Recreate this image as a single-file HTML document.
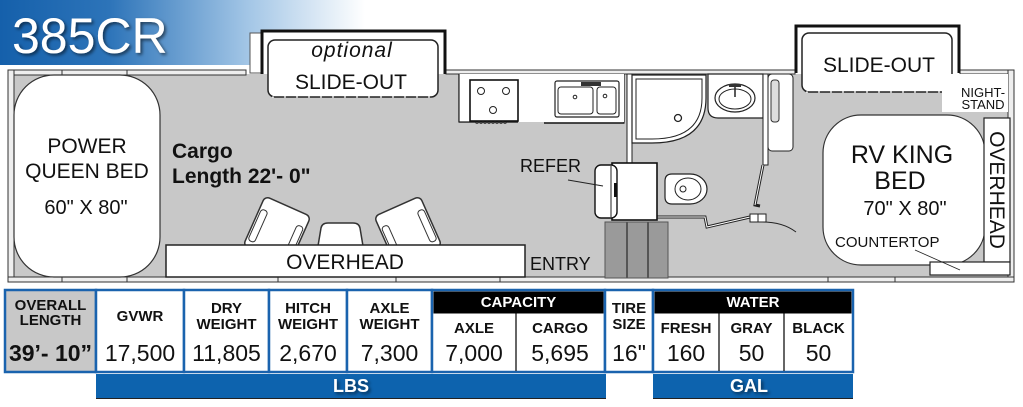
<!DOCTYPE html>
<html><head><meta charset="utf-8">
<style>
html,body{margin:0;padding:0;background:#fff;}
svg{display:block;}
text{font-family:"Liberation Sans",sans-serif;fill:#111;}
</style></head><body>
<svg width="1023" height="407" viewBox="0 0 1023 407" xmlns="http://www.w3.org/2000/svg">
<defs>
<linearGradient id="tg" x1="0" x2="1" y1="0" y2="0">
<stop offset="0" stop-color="#1560ab"/>
<stop offset="0.3" stop-color="#2d74b9"/>
<stop offset="0.68" stop-color="#a3c6e6"/>
<stop offset="1" stop-color="#ffffff"/>
</linearGradient>
<filter id="sh" x="-10%" y="-20%" width="130%" height="150%">
<feDropShadow dx="2" dy="2" stdDeviation="1.5" flood-color="#000" flood-opacity="0.55"/>
</filter>
</defs>

<!-- Title -->
<rect x="0" y="0" width="365" height="65" fill="url(#tg)"/>
<text x="12" y="53" font-size="50" style="fill:#fff" filter="url(#sh)">385CR</text>

<!-- Floor -->
<rect x="14" y="74" width="994" height="203" fill="#c8c8c8"/>

<!-- walls -->
<rect x="8" y="70" width="238" height="5" fill="#eee" stroke="#333" stroke-width="1"/>
<line x1="62" y1="70" x2="62" y2="75" stroke="#333"/>
<line x1="127" y1="70" x2="127" y2="75" stroke="#333"/>
<rect x="446" y="70" width="349" height="4" fill="#eee" stroke="#333" stroke-width="1"/>
<rect x="960" y="70" width="54" height="4" fill="#eee" stroke="#333" stroke-width="1"/>
<rect x="8" y="70" width="6" height="212" fill="#eee" stroke="#333" stroke-width="1"/>
<rect x="1008" y="70" width="6" height="212" fill="#eee" stroke="#333" stroke-width="1"/>
<rect x="8" y="277" width="1006" height="5" fill="#eee" stroke="#333" stroke-width="1"/>
<line x1="62" y1="277" x2="62" y2="282" stroke="#333"/>
<line x1="127" y1="277" x2="127" y2="282" stroke="#333"/>
<line x1="278" y1="277" x2="278" y2="282" stroke="#333"/>
<line x1="396" y1="277" x2="396" y2="282" stroke="#333"/>
<line x1="500" y1="277" x2="500" y2="282" stroke="#333"/>
<line x1="828" y1="277" x2="828" y2="282" stroke="#333"/>
<line x1="895" y1="277" x2="895" y2="282" stroke="#333"/>

<!-- Left slide-out -->
<rect x="250" y="33" width="12" height="40" fill="#fff" stroke="#555" stroke-width="1"/>
<path d="M262 74 V31 H445 V74" fill="#fff" stroke="#111" stroke-width="3"/>
<rect x="268" y="40" width="170" height="57" rx="7" fill="#fff" stroke="#222" stroke-width="1.5"/>
<line x1="272" y1="97" x2="434" y2="97" stroke="#fff" stroke-width="1" stroke-dasharray="2 10"/>
<text x="352" y="57" font-size="21" font-style="italic" text-anchor="middle" letter-spacing="1">optional</text>
<text x="351" y="89" font-size="21" text-anchor="middle">SLIDE-OUT</text>

<!-- Kitchen -->
<path d="M459 74 V122 H518 M544 123 H624 V74" fill="#fff" stroke="#222" stroke-width="1.2"/>
<rect x="459" y="74" width="165" height="48" fill="#fff"/>
<line x1="459" y1="74" x2="459" y2="122" stroke="#222" stroke-width="1.2"/>
<line x1="459" y1="122" x2="518" y2="122" stroke="#222" stroke-width="1.2"/>
<line x1="544" y1="123" x2="624" y2="123" stroke="#222" stroke-width="1.5"/>
<rect x="470" y="80" width="48" height="41" fill="#fff" stroke="#111" stroke-width="1.6"/>
<circle cx="481" cy="91" r="3.5" fill="#fff" stroke="#222"/>
<circle cx="506" cy="91" r="3.5" fill="#fff" stroke="#222"/>
<circle cx="493" cy="110" r="3.5" fill="#fff" stroke="#222"/>
<path d="M475 122 q2 3 4 0 q2 3 4 0 q2 3 4 0 q2 3 4 0 q2 3 4 0 q2 3 4 0 q2 3 4 0 q2 3 4 0" fill="none" stroke="#333"/>
<rect x="555" y="81" width="64" height="36" rx="2" fill="#fff" stroke="#222" stroke-width="1.2"/>
<rect x="558" y="87" width="35" height="27" rx="3" fill="#fff" stroke="#222"/>
<rect x="597" y="87" width="19" height="27" rx="3" fill="#fff" stroke="#222"/>
<circle cx="575" cy="97" r="1.8" fill="none" stroke="#222"/>
<circle cx="605" cy="96" r="1.8" fill="none" stroke="#222"/>
<rect x="581" y="82" width="20" height="4" fill="#333"/>

<!-- Bath -->
<rect x="627" y="74" width="5" height="89" fill="#fff" stroke="#222" stroke-width="1"/>
<path d="M632 75 H706 V98 Q706 143 652 143 H632 Z" fill="#fff" stroke="#222" stroke-width="1.2"/>
<path d="M636 79 H702 V98 Q702 139 652 139 H636 Z" fill="#fff" stroke="#222" stroke-width="1"/>
<circle cx="678" cy="118" r="3.5" fill="#fff" stroke="#222" stroke-width="1.3"/>
<path d="M708 74 H763 V118 H718 Q708 118 708 108 Z" fill="#fff" stroke="#222" stroke-width="1.2"/>
<ellipse cx="735" cy="98" rx="20" ry="14" fill="#fff" stroke="#222" stroke-width="1.2"/>
<ellipse cx="735" cy="99" rx="16" ry="10" fill="#fff" stroke="#222"/>
<line x1="735" y1="87" x2="735" y2="97" stroke="#222" stroke-width="1.5"/>
<rect x="729" y="84" width="12" height="3" fill="#333"/>
<rect x="763" y="74" width="5" height="91" fill="#fff" stroke="#222" stroke-width="1"/>
<rect x="768" y="74" width="25" height="77" rx="4" fill="#fff" stroke="#222" stroke-width="1"/>
<rect x="771" y="80" width="8" height="42" rx="3" fill="#ddd" stroke="#333"/>
<!-- door -->
<path d="M763 165 L755 205 L760 206" fill="none" stroke="#222" stroke-width="3"/>
<path d="M763 165 L755 205" fill="none" stroke="#fff" stroke-width="1"/>
<!-- bath bottom wall -->
<path d="M657 217 H705 L707 227 L750 217" fill="none" stroke="#222" stroke-width="3"/>
<path d="M657 217 H705 L707 227 L750 217" fill="none" stroke="#fff" stroke-width="1"/>
<rect x="750" y="214" width="8" height="8" fill="#fff" stroke="#222"/>
<rect x="758" y="214" width="8" height="8" fill="#fff" stroke="#222"/>
<path d="M762 222 Q783 222 796 232" fill="none" stroke="#222" stroke-width="1"/>
<!-- toilet -->
<path d="M672 174 H690 A17 15 0 0 1 690 204 H672 Q665 204 665 197 V181 Q665 174 672 174 Z" fill="#fff" stroke="#222" stroke-width="1.2"/>
<ellipse cx="688" cy="189" rx="13" ry="11" fill="#fff" stroke="#222"/>
<circle cx="683" cy="189" r="3" fill="#fff" stroke="#222"/>
<!-- refer -->
<rect x="612" y="163" width="45" height="57" fill="#fff" stroke="#111" stroke-width="1.6"/>
<rect x="595" y="165" width="22" height="53" rx="6" fill="#fff" stroke="#111" stroke-width="1.4"/>
<line x1="611" y1="166" x2="611" y2="217" stroke="#222"/>
<rect x="614" y="183" width="3" height="14" fill="#111"/>
<line x1="568" y1="180" x2="603" y2="186" stroke="#222" stroke-width="1"/>
<text x="520" y="172" font-size="18">REFER</text>

<!-- steps -->
<rect x="605" y="222" width="63" height="56" fill="#9a9a9a" stroke="#555"/>
<line x1="627" y1="222" x2="627" y2="278" stroke="#555" stroke-width="2"/>
<line x1="648" y1="222" x2="648" y2="278" stroke="#555" stroke-width="2"/>
<text x="530" y="270" font-size="18">ENTRY</text>

<!-- Right slide-out -->
<path d="M796 73 V26 H959 V73" fill="#fff" stroke="#111" stroke-width="3"/>
<rect x="802" y="33" width="150" height="59" rx="7" fill="#fff" stroke="#222" stroke-width="1.5"/>
<line x1="806" y1="92" x2="948" y2="92" stroke="#fff" stroke-width="1" stroke-dasharray="2 10"/>
<text x="879" y="72" font-size="21" text-anchor="middle">SLIDE-OUT</text>
<rect x="942" y="74" width="66" height="38" fill="#fff"/>
<text x="983" y="97" font-size="13" text-anchor="middle">NIGHT-</text>
<text x="983" y="109" font-size="13" text-anchor="middle">STAND</text>

<!-- Right bed -->
<rect x="823" y="115" width="162" height="150" rx="38" fill="#fff" stroke="#333" stroke-width="1.2"/>
<rect x="984" y="118" width="26" height="144" fill="#fff" stroke="#222" stroke-width="1.2"/>
<rect x="930" y="262" width="80" height="13" fill="#fff" stroke="#222" stroke-width="1.2"/>
<line x1="915" y1="250" x2="960" y2="270" stroke="#222" stroke-width="0.8"/>
<text x="902" y="163" font-size="25" text-anchor="middle">RV KING</text>
<text x="900" y="189" font-size="25" text-anchor="middle">BED</text>
<text x="905" y="215" font-size="20" text-anchor="middle">70" X 80"</text>
<text x="835" y="247" font-size="15">COUNTERTOP</text>
<text transform="translate(990,190) rotate(90)" font-size="21" text-anchor="middle">OVERHEAD</text>

<!-- Left bed -->
<rect x="14" y="75" width="146" height="202" rx="40" fill="#fff" stroke="#333" stroke-width="1.2"/>
<text x="87" y="153" font-size="21" text-anchor="middle">POWER</text>
<text x="87" y="178" font-size="21" text-anchor="middle">QUEEN BED</text>
<text x="86" y="214" font-size="20" text-anchor="middle">60" X 80"</text>

<text x="172" y="158" font-size="21" font-weight="bold">Cargo</text>
<text x="172" y="183" font-size="21" font-weight="bold">Length 22'- 0"</text>

<!-- chairs -->
<g transform="translate(277,231) rotate(24)">
<rect x="-25" y="-27" width="50" height="54" rx="5" fill="#fff" stroke="#333" stroke-width="1.5"/>
<rect x="-23" y="-14" width="7" height="34" rx="3" fill="#fff" stroke="#333"/>
<rect x="16" y="-14" width="7" height="34" rx="3" fill="#fff" stroke="#333"/>
</g>
<g transform="translate(408,231) rotate(-24)">
<rect x="-25" y="-27" width="50" height="54" rx="5" fill="#fff" stroke="#333" stroke-width="1.5"/>
<rect x="-23" y="-14" width="7" height="34" rx="3" fill="#fff" stroke="#333"/>
<rect x="16" y="-14" width="7" height="34" rx="3" fill="#fff" stroke="#333"/>
</g>
<path d="M318 246 L321 228 Q322 223 328 223 H353 Q359 223 360 228 L363 246 Z" fill="#fff" stroke="#333" stroke-width="1.5"/>

<!-- left overhead -->
<rect x="166" y="245" width="359" height="32" fill="#fff" stroke="#222" stroke-width="1.5"/>
<text x="345" y="269" font-size="21" text-anchor="middle">OVERHEAD</text>

<!-- Table -->
<g stroke="#1a63ae" stroke-width="2.5">
<rect x="5" y="290" width="91" height="82" fill="#c8c8c8"/>
<rect x="96" y="290" width="88" height="82" fill="#fff"/>
<rect x="184" y="290" width="85" height="82" fill="#fff"/>
<rect x="269" y="290" width="78" height="82" fill="#fff"/>
<rect x="347" y="290" width="85" height="82" fill="#fff"/>
<rect x="432" y="290" width="173" height="82" fill="#fff"/>
<rect x="605" y="290" width="48" height="82" fill="#fff"/>
<rect x="653" y="290" width="200" height="82" fill="#fff"/>
</g>
<rect x="433.5" y="291.5" width="170" height="22" fill="#000"/>
<rect x="654.5" y="291.5" width="197" height="22" fill="#000"/>
<line x1="516" y1="313" x2="516" y2="371" stroke="#000" stroke-width="1.2"/>
<line x1="719" y1="313" x2="719" y2="371" stroke="#000" stroke-width="1.2"/>
<line x1="784" y1="313" x2="784" y2="371" stroke="#000" stroke-width="1.2"/>

<g font-size="15" font-weight="bold" text-anchor="middle">
<text x="50.5" y="310">OVERALL</text>
<text x="50.5" y="325">LENGTH</text>
<text x="140" y="321">GVWR</text>
<text x="226.5" y="313">DRY</text>
<text x="226.5" y="329">WEIGHT</text>
<text x="308" y="313">HITCH</text>
<text x="308" y="329">WEIGHT</text>
<text x="389.5" y="313">AXLE</text>
<text x="389.5" y="329">WEIGHT</text>
<text x="518.5" y="307" style="fill:#fff">CAPACITY</text>
<text x="474" y="333">AXLE</text>
<text x="560" y="333">CARGO</text>
<text x="629" y="313">TIRE</text>
<text x="629" y="329">SIZE</text>
<text x="753" y="307" style="fill:#fff">WATER</text>
<text x="686" y="333">FRESH</text>
<text x="751.5" y="333">GRAY</text>
<text x="818.5" y="333">BLACK</text>
</g>
<g font-size="23" text-anchor="middle">
<text x="50.5" y="361" font-weight="bold">39’- 10”</text>
<text x="140" y="361">17,500</text>
<text x="226.5" y="361">11,805</text>
<text x="308" y="361">2,670</text>
<text x="389.5" y="361">7,300</text>
<text x="474" y="361">7,000</text>
<text x="560" y="361">5,695</text>
<text x="629" y="361">16"</text>
<text x="686" y="361">160</text>
<text x="751.5" y="361">50</text>
<text x="818.5" y="361">50</text>
</g>

<rect x="96" y="374" width="510" height="24" fill="#0d63ae"/>
<line x1="96" y1="398.5" x2="606" y2="398.5" stroke="#222" stroke-width="1"/>
<rect x="653" y="374" width="200" height="24" fill="#0d63ae"/>
<line x1="653" y1="398.5" x2="853" y2="398.5" stroke="#222" stroke-width="1"/>
<text x="351" y="392" font-size="18" font-weight="bold" text-anchor="middle" style="fill:#fff" filter="url(#sh)">LBS</text>
<text x="749" y="392" font-size="18" font-weight="bold" text-anchor="middle" style="fill:#fff" filter="url(#sh)">GAL</text>
</svg>
</body></html>
